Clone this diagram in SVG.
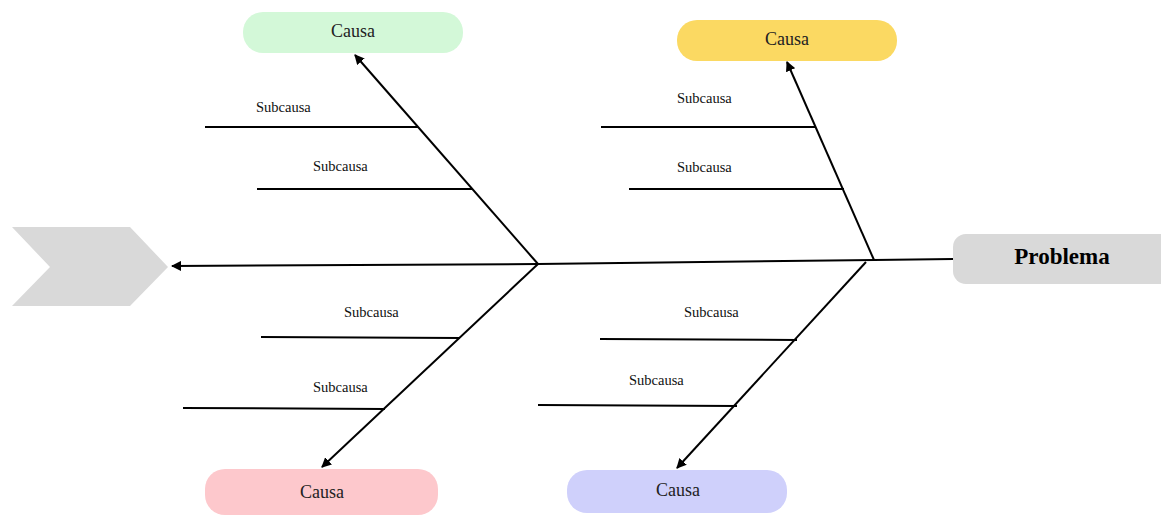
<svg xmlns="http://www.w3.org/2000/svg" width="1161" height="517" viewBox="0 0 1161 517">
<style>
.ln{stroke:#000;stroke-width:2;fill:none}
.sub{font-family:"Liberation Serif",serif;font-size:14.5px;fill:#111}
.causa{font-family:"Liberation Serif",serif;font-size:18px;fill:#222;text-anchor:middle}
.prob{font-family:"Liberation Serif",serif;font-size:23px;font-weight:bold;fill:#000;text-anchor:middle}
</style>
<defs>
<marker id="ah" viewBox="0 0 10 10" refX="9" refY="5" markerWidth="5" markerHeight="5" markerUnits="strokeWidth" orient="auto">
<path d="M0,0 L10,5 L0,10 z" fill="#000"/>
</marker>
</defs>
<rect width="1161" height="517" fill="#fff"/>
<g id="head-chevron">
<polygon points="12,227 130,227 168,267 130,306 12,306 50,267" fill="#d9d9d9"/>
</g>
<g id="problema">
<rect x="953" y="234" width="220" height="50" rx="13" fill="#d9d9d9"/>
<text class="prob" x="1062" y="264">Problema</text>
</g>
<g id="causa-tl">
<rect x="243" y="12" width="220" height="41" rx="20" fill="#d3f8d8"/>
<text class="causa" x="353" y="37">Causa</text>
</g>
<g id="causa-tr">
<rect x="677" y="20" width="220" height="41" rx="20" fill="#fbd962"/>
<text class="causa" x="787" y="45">Causa</text>
</g>
<g id="causa-bl">
<rect x="205" y="469" width="233" height="46" rx="20" fill="#fdc8cc"/>
<text class="causa" x="322" y="498">Causa</text>
</g>
<g id="causa-br">
<rect x="567" y="470" width="220" height="43" rx="20" fill="#cfd0fb"/>
<text class="causa" x="678" y="496">Causa</text>
</g>
<g id="connectors">
<polyline class="ln" points="953,259 874,260 538,264 172,266" marker-end="url(#ah)"/>
<line class="ln" x1="538" y1="264" x2="355" y2="55" marker-end="url(#ah)"/>
<line class="ln" x1="874" y1="260" x2="787" y2="62" marker-end="url(#ah)"/>
<line class="ln" x1="538" y1="264" x2="322" y2="467" marker-end="url(#ah)"/>
<line class="ln" x1="866" y1="262" x2="677" y2="468" marker-end="url(#ah)"/>
<line class="ln" x1="205" y1="127" x2="418" y2="127"/>
<line class="ln" x1="257" y1="189" x2="472" y2="189"/>
<line class="ln" x1="601" y1="127" x2="816" y2="127"/>
<line class="ln" x1="629" y1="189" x2="844" y2="189"/>
<line class="ln" x1="261" y1="337" x2="460" y2="338"/>
<line class="ln" x1="183" y1="408" x2="385" y2="409"/>
<line class="ln" x1="600" y1="339" x2="797" y2="340"/>
<line class="ln" x1="538" y1="405" x2="737" y2="406"/>
</g>
<g id="labels">
<text class="sub" x="256" y="112">Subcausa</text>
<text class="sub" x="313" y="171">Subcausa</text>
<text class="sub" x="677" y="103">Subcausa</text>
<text class="sub" x="677" y="172">Subcausa</text>
<text class="sub" x="344" y="317">Subcausa</text>
<text class="sub" x="313" y="392">Subcausa</text>
<text class="sub" x="684" y="317">Subcausa</text>
<text class="sub" x="629" y="385">Subcausa</text>
</g>
</svg>
